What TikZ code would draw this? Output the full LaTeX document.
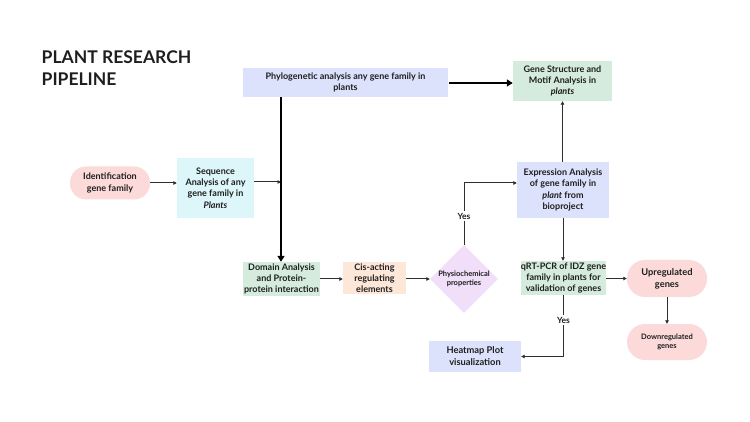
\documentclass[tikz,border=0pt]{standalone}
\usepackage{fontspec}
\setmainfont{Lato}
\usetikzlibrary{shapes.geometric,arrows.meta}
\definecolor{cpink}{HTML}{FDDADA}
\definecolor{ccyan}{HTML}{DDF6F9}
\definecolor{clav}{HTML}{DCE2FB}
\definecolor{cgreen}{HTML}{D4EBDD}
\definecolor{cpeach}{HTML}{FDE7D9}
\definecolor{clilac}{HTML}{F1DEF8}
\definecolor{ctxt}{HTML}{1E1E1E}
\definecolor{cline}{HTML}{2E2E2E}
\begin{document}
\begin{tikzpicture}[x=1pt,y=-1pt,
  base/.style={inner sep=0pt, align=center, text=ctxt, font=\bfseries\fontsize{9}{11.3}\selectfont},
  boxnode/.style={base, rectangle},
  pill/.style={base, rectangle},
  titletext/.style={anchor=base west, inner sep=0pt, text=ctxt, font=\bfseries\fontsize{17.5}{22}\selectfont},
  thinarrow/.style={draw=cline, line width=1pt, -{Triangle[length=3.5pt,width=3.5pt]}},
  thinline/.style={draw=cline, line width=1pt},
  thickarrow/.style={draw=black, line width=2.2pt, -{Triangle[length=6pt,width=7pt]}},
  thickline/.style={draw=black, line width=2.2pt},
  yeslabel/.style={fill=white, inner sep=1.5pt, text=ctxt, font=\bfseries\fontsize{8.5}{10}\selectfont}
]
\useasboundingbox[fill=white] (0,0) rectangle (750,422);

\node[titletext] (title1) at (41.5,64) {PLANT RESEARCH};
\node[titletext] (title2) at (41.5,85.5) {PIPELINE};

\node[pill, fill=cpink, rounded corners=16pt, minimum width=80pt, minimum height=33pt] (id) at (110,183) {Identification\\gene family};
\node[boxnode, fill=ccyan, minimum width=77pt, minimum height=60pt] (seq) at (215.5,188) {Sequence\\Analysis of any\\gene family in\\\textit{Plants}};
\node[boxnode, fill=clav, minimum width=205pt, minimum height=29pt] (phy) at (345.5,82.5) {Phylogenetic analysis any gene family in\\plants};
\node[boxnode, fill=cgreen, minimum width=99pt, minimum height=40pt] (gene) at (562.5,81) {Gene Structure and\\Motif Analysis in\\\textit{plants}};
\node[boxnode, fill=cgreen, minimum width=77pt, minimum height=34pt] (dom) at (281.5,279) {Domain Analysis\\and Protein-\\protein interaction};
\node[boxnode, fill=cpeach, minimum width=63pt, minimum height=32pt] (cis) at (374.5,278) {Cis-acting\\regulating\\elements};
\node[base, diamond, aspect=1, fill=clilac, minimum width=68pt, minimum height=68pt, font=\bfseries\fontsize{7.5}{9.5}\selectfont] (phys) at (464,279) {Physiochemical\\properties};
\node[boxnode, fill=clav, minimum width=92pt, minimum height=56pt] (expr) at (563,190) {Expression Analysis\\of gene family in\\\textit{plant} from\\bioproject};
\node[boxnode, fill=cgreen, minimum width=85pt, minimum height=34pt] (qrt) at (563.5,278) {qRT-PCR of IDZ gene\\family in plants for\\validation of genes};
\node[pill, fill=cpink, rounded corners=18pt, minimum width=80pt, minimum height=37pt, font=\bfseries\fontsize{9.3}{12}\selectfont] (up) at (667,278.5) {Upregulated\\genes};
\node[pill, fill=cpink, rounded corners=18pt, minimum width=80pt, minimum height=36pt, font=\bfseries\fontsize{7.5}{9.5}\selectfont] (down) at (667,342) {Downregulated\\genes};
\node[boxnode, fill=clav, minimum width=92pt, minimum height=31pt, font=\bfseries\fontsize{9.3}{12}\selectfont] (heat) at (475,356.5) {Heatmap Plot\\visualization};

\coordinate (j) at (281,182);
\coordinate (k) at (464,183);
\coordinate (m) at (563.5,356.5);

% connectors
\draw[thinarrow] (id.east) -- (seq.west |- id.east);
\draw[thinarrow] (seq.east |- j) -- (j);
\draw[thickarrow] (j |- phy.south) -- (j |- dom.north);
\draw[thickarrow, shorten <=1pt] (phy.east |- 0,83) -- (gene.west |- 0,83);
\draw[thinarrow] (dom.east) -- (cis.west |- dom.east);
\draw[thinarrow] (cis.east |- phys.west) -- (phys.west);
\draw[thinline] (phys.north) -- (k);
\draw[thinarrow] (k) -- (expr.west |- k);
\node[yeslabel] (yes1) at (464,216) {Yes};
\draw[thinarrow] (expr.north -| gene.south) -- (gene.south);
\draw[thinarrow] (expr.south) -- (expr.south |- qrt.north);
\draw[thinarrow] (qrt.east |- up.west) -- (up.west);
\draw[thinarrow] (up.south) -- (down.north);
\draw[thinline] (qrt.south) -- (m);
\draw[thinarrow] (m) -- (heat.east);
\node[yeslabel] (yes2) at (563.5,320) {Yes};
\end{tikzpicture}
\end{document}
